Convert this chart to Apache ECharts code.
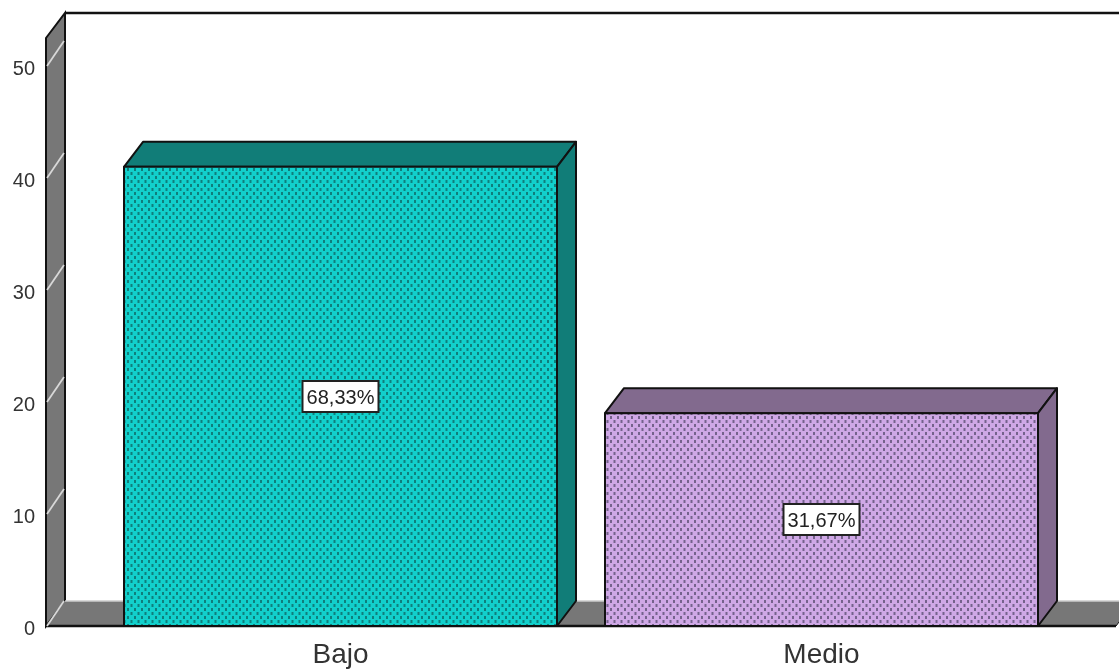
<!DOCTYPE html>
<html>
<head>
<meta charset="utf-8">
<style>html,body{margin:0;padding:0;background:#fff;overflow:hidden}#c{width:1119px;height:669px}</style>
<script src="https://cdn.jsdelivr.net/npm/echarts@6/dist/echarts.min.js"></script>
</head>
<body>
<div id="c"></div>
<script>
const categories = ['Bajo', 'Medio'];
const counts = [41, 19];
const percentLabels = ['68,33%', '31,67%'];
const yTicks = [0, 10, 20, 30, 40, 50];

const DX = 19, DY = -25, WALL_TOP = 52.5, HALF_BAR = 216.5;
const LEFT_EXT = 54, RIGHT_EXT = 54;

function dots(bg, fg) {
  const s = 7, h = 8, c = document.createElement('canvas');
  c.width = s; c.height = h;
  const g = c.getContext('2d');
  g.fillStyle = bg; g.fillRect(0, 0, s, h);
  g.fillStyle = fg;
  g.fillRect(1, 0, 2, 3);
  g.fillRect(4.5, 4, 2, 3);
  return { image: c, repeat: 'repeat' };
}
const palette = [
  { front: dots('#12D0CC', '#0F7F7C'), depth: '#117D78' },
  { front: dots('#CFA8E6', '#75628C'), depth: '#826A8E' }
];
const EDGE = '#111';

function renderFrame(params, api) {
  if (params.dataIndex !== 0) return;
  const cs = params.coordSys;
  const l = cs.x - LEFT_EXT, r = cs.x + cs.width + RIGHT_EXT;
  const y0 = api.coord([0, 0])[1];
  const yTop = api.coord([0, WALL_TOP])[1];
  const children = [];
  children.push({ type: 'polygon', shape: { points: [[l, yTop], [l + DX, yTop + DY], [l + DX, y0 + DY], [l, y0]] },
    style: { fill: '#777', stroke: EDGE, lineWidth: 2 } });
  children.push({ type: 'polygon', shape: { points: [[l, y0], [l + DX, y0 + DY], [r + DX, y0 + DY], [r, y0]] },
    style: { fill: '#777', stroke: null } });
  children.push({ type: 'line', shape: { x1: l, y1: y0, x2: r, y2: y0 }, style: { stroke: EDGE, lineWidth: 2.5 } });
  children.push({ type: 'line', shape: { x1: r, y1: y0, x2: r + DX, y2: y0 + DY }, style: { stroke: EDGE, lineWidth: 1 } });
  children.push({ type: 'line', shape: { x1: l + DX, y1: y0 + DY, x2: r + DX, y2: y0 + DY }, style: { stroke: '#ccc', lineWidth: 1.5 } });
  children.push({ type: 'line', shape: { x1: l + DX, y1: yTop + DY, x2: r + DX, y2: yTop + DY }, style: { stroke: EDGE, lineWidth: 2.5 } });
  yTicks.forEach(function (t) {
    const y = api.coord([0, t])[1];
    children.push({ type: 'line', shape: { x1: l + 1, y1: y, x2: l + DX - 1, y2: y + DY }, style: { stroke: '#d8d8d8', lineWidth: 1.8 } });
  });
  return { type: 'group', children: children };
}

function renderBar(params, api) {
  const i = api.value(0);
  const x = api.coord([i, 0])[0];
  const y0 = api.coord([i, 0])[1];
  const y1 = api.coord([i, api.value(1)])[1];
  const a = x - HALF_BAR, b = x + HALF_BAR;
  const col = palette[i];
  const mid = (y0 + y1) / 2;
  const edge = { stroke: EDGE, lineWidth: 2, lineJoin: 'round' };
  return { type: 'group', children: [
    { type: 'polygon', shape: { points: [[a, y1], [a + DX, y1 + DY], [b + DX, y1 + DY], [b, y1]] }, style: Object.assign({ fill: col.depth }, edge) },
    { type: 'polygon', shape: { points: [[b, y1], [b + DX, y1 + DY], [b + DX, y0 + DY], [b, y0]] }, style: Object.assign({ fill: col.depth }, edge) },
    { type: 'rect', shape: { x: a, y: y1, width: b - a, height: y0 - y1 }, style: Object.assign({ fill: col.front }, edge) },
    { type: 'rect', shape: { x: x - 38, y: mid - 15.5, width: 76, height: 31 }, style: { fill: '#fff', stroke: '#222', lineWidth: 2 } },
    { type: 'text', style: { x: x, y: mid + 2, text: percentLabels[i], align: 'center', verticalAlign: 'middle',
      fontFamily: 'Liberation Sans', fontSize: 20, fill: '#222' } }
  ] };
}

const chart = echarts.init(document.getElementById('c'), null, { renderer: 'canvas' });
chart.setOption({
  animation: false,
  backgroundColor: '#fff',
  grid: { left: 100, right: 57, top: 66, bottom: 43, containLabel: false },
  xAxis: {
    type: 'category', data: categories, boundaryGap: true,
    axisLine: { show: false }, axisTick: { show: false }, splitLine: { show: false },
    axisLabel: { fontFamily: 'Liberation Sans', fontSize: 28, color: '#333', margin: 15 }
  },
  yAxis: {
    type: 'value', min: 0, max: 50, interval: 10, offset: 54,
    axisLine: { show: false }, axisTick: { show: false }, splitLine: { show: false },
    axisLabel: { fontFamily: 'Liberation Sans', fontSize: 20, color: '#333', margin: 11, verticalAlign: 'top', lineHeight: 6 }
  },
  series: [
    { type: 'custom', clip: false, renderItem: renderFrame, z: 1, silent: true,
      data: categories.map(function (_, i) { return [i, 0]; }) },
    { type: 'custom', clip: false, renderItem: renderBar, z: 2,
      encode: { x: 0, y: 1 },
      data: categories.map(function (_, i) { return [i, counts[i]]; }) }
  ]
});
</script>
</body>
</html>
